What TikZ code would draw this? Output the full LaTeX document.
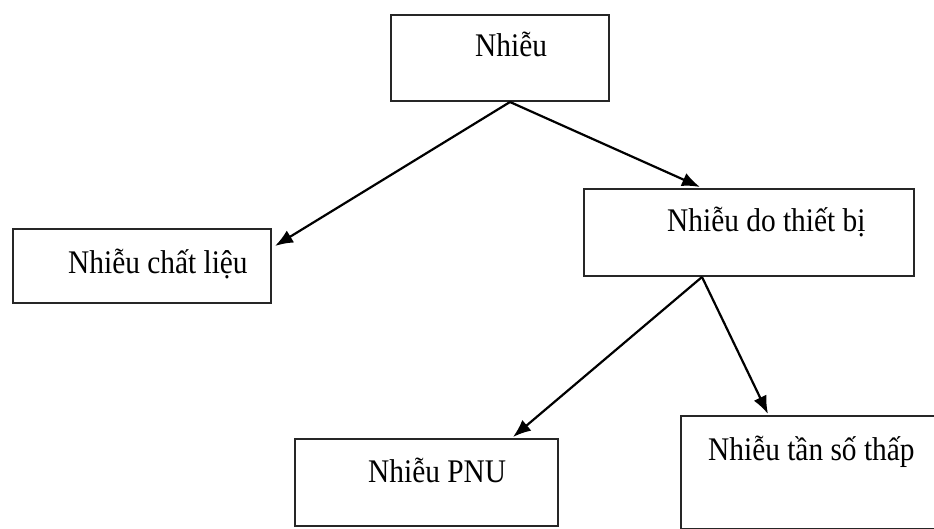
\documentclass[tikz,border=0pt]{standalone}
\usepackage{fontspec}
\setmainfont{Liberation Serif}
\newfontfamily\boxfont[FakeStretch=0.89]{Liberation Serif}
\usetikzlibrary{arrows.meta,calc}
\begin{document}
\begin{tikzpicture}[x=1pt,y=-1pt,
  box/.style={draw=black!85,line width=2pt,rectangle,inner sep=0pt,anchor=north west},
  lbl/.style={inner sep=0pt,anchor=base west,font=\boxfont\fontsize{33}{36}\selectfont},
  link/.style={line width=2.2pt,-{Latex[length=18pt,width=14pt]}}]
\clip (0,0) rectangle (934,529);
\fill[white] (0,0) rectangle (934,529);
% boxes
\node[box,minimum width=218pt,minimum height=86pt] (root) at (390,14) {};
\node[box,minimum width=258pt,minimum height=74pt] (mat) at (12,228) {};
\node[box,minimum width=330pt,minimum height=87pt] (dev) at (583,188) {};
\node[box,minimum width=263pt,minimum height=87pt] (pnu) at (294,438) {};
\node[box,minimum width=270pt,minimum height=113pt] (low) at (680,415) {};
% labels
\node[lbl] (rootT) at (475,57) {Nhiễu};
\node[lbl] (matT) at (68,273) {Nhiễu chất liệu};
\node[lbl] (devT) at (667,232) {Nhiễu do thiết bị};
\node[lbl] (pnuT) at (368,482) {Nhiễu PNU};
\node[lbl] (lowT) at (708,460) {Nhiễu tần số thấp};
% connectors
\draw[link] ($(root.south west)+(120,0)$) -- ($(mat.north east)+(3,18)$);
\draw[link] ($(root.south west)+(120,0)$) -- ($(dev.north west)+(117,-1)$);
\draw[link] ($(dev.south west)+(119,0)$) -- ($(pnu.north west)+(219,-1)$);
\draw[link] ($(dev.south west)+(119,0)$) -- ($(low.north west)+(88,-1)$);
\end{tikzpicture}
\end{document}
